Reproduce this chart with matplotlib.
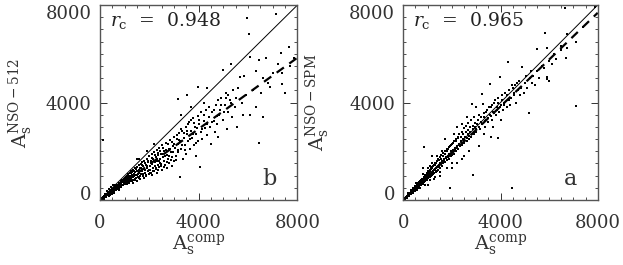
import numpy as np
import matplotlib.pyplot as plt
from matplotlib.ticker import MultipleLocator

plt.rcParams['font.family'] = ['DejaVu Serif']
plt.rcParams['mathtext.fontset'] = 'dejavuserif'

# panel b : A_s^comp vs A_s^NSO-512 (approximate)
b_points = [
    (30,20),(50,45),(60,30),(80,70),(90,60),(100,90),(110,70),(120,110),(130,100),(140,90),
    (150,140),(160,120),(170,150),(180,130),(190,170),(200,150),(210,190),(220,160),(230,210),(240,180),
    (250,230),(260,200),(270,250),(280,210),(290,260),(300,240),(310,280),(320,230),(330,300),(340,260),
    (350,310),(360,280),(370,330),(380,290),(390,350),(400,300),(410,370),(420,320),(430,380),(440,330),
    (450,410),(460,350),(470,420),(480,360),(490,440),(500,380),(510,460),(520,400),(530,470),(540,410),
    (550,500),(560,430),(570,510),(580,450),(590,520),(600,460),(150,60),(250,120),(350,180),(420,220),
    (480,250),(560,300),(200,260),(300,380),(380,470),(450,520),(520,600),(590,620),
    (620,500),(640,420),(650,560),(670,480),(690,600),(700,520),(720,450),(730,620),(750,560),(760,680),
    (780,590),(790,500),(800,700),(820,640),(830,560),(850,760),(860,680),(870,600),(890,800),(900,720),
    (910,620),(930,840),(940,760),(960,680),(970,880),(980,780),(1000,700),(1010,920),(1020,820),(1040,740),
    (1050,960),(1060,860),(1080,780),(1090,640),(1100,1000),(1110,900),(1130,820),(1140,700),(1150,1060),
    (1170,940),(1180,860),(1200,760),(1210,1120),(1230,980),(1240,900),(1260,800),(1270,1180),(1290,1020),
    (1300,940),(1320,840),(1330,700),(1340,1240),(1360,1080),(1380,980),(1400,880),(1410,1300),(1430,1140),
    (1450,1020),(1460,920),(1480,780),(1500,1360),(1500,1200),(1520,1060),(1540,960),(1560,1420),(1580,1250),
    (1600,1120),(1620,1000),(1640,860),(1660,1480),(1680,1300),
    (1700,1180),(1720,1550),(1740,1050),(1760,1380),(1780,920),(1800,1620),(1820,1250),(1840,1120),
    (1860,1450),(1880,980),(1900,1700),(1920,1320),(1940,1180),(1960,1560),(1980,1050),(2000,1800),
    (2020,1400),(2040,1250),(2060,1620),(2080,1120),(2100,1880),(2120,1480),(2140,1320),(2160,1700),
    (2180,1200),(2200,1960),(2220,1560),(2240,1380),(2260,1780),(2280,1260),(2300,2050),(2320,1620),
    (2340,1450),(2360,1850),(2380,1340),(2400,2150),(2420,1700),(2440,1520),(2460,1900),(2480,1380),
    (2500,2250),(2540,1780),(2580,1600),(2600,2000),(2640,1450),(2680,2350),(2700,1850),(2740,1680),
    (2780,2100),(2800,1500),(2840,2450),(2880,1950),(2900,1750),(2940,2200),(2980,1580),(3000,2600),
    (2100,1020),(2300,1120),(2500,1250),(2700,1300),(2900,1380),(1600,1680),(1900,2000),(2200,2300),
    (1500,1700),
    (3050,2150),(3080,1800),(3100,2500),(3150,2300),(3180,1950),(3200,2750),(3240,960),(3250,2400),
    (3300,2100),(3320,2850),(3350,1700),(3400,2550),(3440,2250),(3480,3000),(3500,1900),(3540,2700),
    (3580,2400),(3600,3200),(3650,2100),(3700,2850),(3720,2550),(3760,3350),(3800,2250),(3840,3000),
    (3880,2700),(3900,1800),(3950,3450),(3980,2400),(4000,3100),(4050,1370),(4080,2800),(4100,3600),
    (4150,2500),(4200,3250),(4250,2950),(4300,3700),(4350,2650),(4400,3400),(4450,3000),(4500,2300),
    (3980,4620),(4350,4580),(3540,4310),(3170,4130),(3300,3500),(3700,3800),(4200,4000),
    (4550,3600),(4600,3250),(4650,2800),(4700,3900),(4750,3450),(4800,2600),(4850,3700),(4900,4200),
    (4970,5330),(5000,3300),(5050,3900),(5100,4400),(5150,2900),(5200,3600),(5250,4100),(5310,5580),
    (5350,3400),(5400,4500),(5450,3800),(5500,4200),(5550,3000),(5600,4600),(5680,5030),(5740,4000),
    (5800,3500),(5850,5090),(5900,4300),(5940,7480),(6040,6800),(6060,5860),(6080,3490),(5200,4300),
    (5300,4000),(5100,4200),(4800,4100),
    (6200,4500),(6300,3800),(6430,2350),(6440,5740),(6520,4380),(6620,3420),(6720,5840),(6800,4800),
    (6890,4650),(7000,5200),(7120,7620),(7320,6040),(7360,5200),(7360,4760),(7510,4400),(7670,6260),
    (7870,5810),(7700,5500),(6600,5000),(7200,5600),(6300,5300),(130,2460),
    # second pass over the dense part of the cloud
    (230,140),(270,190),(340,200),(360,330),(410,260),(440,390),(470,300),(520,350),(530,420),(580,380),
    (610,540),(630,470),(660,390),(680,540),(710,590),(740,500),(770,430),(810,590),(840,710),(870,520),
    (910,760),(950,610),(990,850),(1020,640),(1070,880),(1120,730),(1160,990),(1190,680),(1220,860),
    (1250,1090),(1280,760),(1310,1150),(1350,930),(1390,1210),(1420,820),(1460,1270),(1490,1030),
    (1530,1180),(1570,900),(1610,1330),(1650,1060),(1690,1420),(1730,990),(1770,1290),(1810,1510),
    (1850,1040),(1890,1380),(1930,1600),(1970,1230),(2010,1090),(2050,1520),(2090,1730),(2130,1190),
    (2170,1580),(2210,1830),(2250,1310),(2290,1690),(2330,1910),(2370,1230),(2410,1610),(2450,2010),
    (2490,1470),(2530,1900),(2570,2150),(2610,1350),(2650,1790),(2690,2050),(2730,1560),(2770,2300),
    (2810,1820),(2850,2100),(2890,1660),(2930,2380),(2970,1950),(3010,2300),(3060,1650),(3110,2650),
    (3160,2050),(3210,2450),(3270,2900),(3330,2250),(3390,2750),(3450,2050),(3510,2850),(3570,3100),
    (3630,2500),(3690,3300),(3750,2700),(3810,3150),(3870,2350),(3930,2950),(4020,3300),(4120,2900),
    (4220,3500),(4320,3100),(4420,3800),(4520,3200),(4620,3700),(4720,3100),(4820,3500),(4920,3900),
    (5020,3600),
]

# panel a : A_s^comp vs A_s^NSO-SPM
a_points = [
    (20,20),(40,50),(60,50),(70,80),(90,80),(100,110),(110,90),(130,140),(140,120),(150,160),
    (170,150),(180,200),(190,170),(210,220),(220,200),(230,250),(250,230),(260,280),(270,250),(290,300),
    (300,280),(310,330),(330,310),(340,360),(350,330),(370,390),(380,360),(390,420),(410,390),(420,450),
    (430,410),(450,470),(460,440),(470,500),(490,470),(500,530),(510,490),(530,560),(540,520),(550,590),
    (570,550),(580,610),(590,570),(600,640),(150,80),(250,170),(330,230),(400,300),(470,360),(550,420),
    (200,290),(300,400),(380,500),(460,580),(540,680),(600,480),
    (620,600),(640,680),(650,560),(670,700),(690,640),(700,760),(720,680),(730,600),(750,790),(760,720),
    (780,850),(790,740),(800,660),(820,880),(830,800),(850,720),(860,920),(880,850),(890,760),(910,960),
    (920,880),(940,800),(950,1020),(970,930),(980,840),(1000,1080),(1010,980),(1030,900),(1040,1150),
    (1060,1030),(1080,940),(1090,1200),(1110,1080),(1130,980),(1140,1260),(1160,1120),(1180,1020),
    (1190,1320),(1210,1180),(1230,1060),(1240,1380),(1260,1230),(1280,1100),(1300,1450),(1310,1280),
    (1330,1150),(1350,1500),(1370,1340),(1390,1200),(1400,1580),(1420,1400),(1440,1250),(1450,1650),
    (1470,1450),(1490,1300),(1500,1150),(840,2190),(900,600),(1100,800),(1300,950),(1200,1500),
    (1000,1300),(800,1050),(1400,1800),(1100,1400),(700,500),(1250,850),
    (1520,1500),(1550,1700),(1580,1400),(1600,1580),(1630,1800),(1650,1500),(1680,1680),(1700,1900),
    (1720,1560),(1750,1750),(1780,2000),(1800,1650),(1820,1820),(1850,2100),(1870,1700),(1900,1900),
    (1930,2200),(1930,480),(1950,1800),(1980,2000),(2000,2300),(2020,1850),(2050,2050),(2080,2400),
    (2100,1900),(2130,2150),(2160,2500),(2180,2000),(2200,2200),(2230,2600),(2260,2100),(2280,2300),
    (2300,2700),(2330,2200),(2360,2400),(2400,2800),(2420,2250),(2450,2500),(2480,2950),(2500,2350),
    (2550,2600),(2580,3050),(2600,2400),(2650,2700),(2680,3150),(2700,2500),(2750,2800),(2780,3300),
    (2800,2600),(2850,2900),(2870,1030),(2900,3400),(2920,2700),(2950,3000),(3000,2800),(2200,1500),
    (2500,1800),(2700,2000),(1800,1300),(2000,1500),(1600,2000),(2400,3100),(2100,2700),
    (3050,3100),(3100,3500),(3150,2900),(3200,3200),(3240,4340),(3280,3940),(3300,3400),(3350,3000),
    (3400,3300),(3450,3700),(3500,3200),(3550,3500),(3550,4760),(3600,3800),(3650,3300),(3700,3600),
    (3750,4000),(3800,3500),(3850,3800),(3900,2530),(3900,4200),(3950,3600),(3990,5060),(4000,3900),
    (4050,4300),(4100,3700),(4150,4000),(4200,4400),(4250,3800),(4300,4100),(4320,5650),(4350,4500),
    (4400,3900),(4450,4200),(4490,480),(4500,4600),(2830,3940),(3300,2700),(3700,3000),(4000,3300),
    (4550,4300),(4600,4700),(4650,4000),(4700,4500),(4750,4900),(4800,4300),(4850,4600),(4900,5450),
    (4950,4400),(5000,4800),(5050,5100),(5100,4600),(5170,3560),(5200,5000),(5250,5300),(5300,4800),
    (5350,5100),(5400,4700),(5500,6180),(5500,5300),(5600,5000),(5700,5500),(5820,6840),(5910,6250),
    (5930,5060),(5930,4960),(6000,5700),(6100,5600),(6200,6000),(6300,5800),(6480,6150),(6500,6300),
    (6640,7890),(6710,5840),(6720,6250),(6740,6810),(7090,3860),(7120,6500),(7400,7100),(7900,7900),
    (6000,4900),(5800,5400),
    # second pass over the dense part of the cloud
    (230,270),(270,230),(340,390),(360,310),(410,430),(440,480),(470,420),(520,580),(560,500),(610,690),
    (630,580),(660,720),(690,600),(710,800),(740,690),(770,880),(800,740),(840,950),(870,800),(900,1010),
    (930,860),(960,1090),(990,940),(1020,1170),(1050,990),(1080,1230),(1110,1040),(1140,1310),(1170,1100),
    (1200,1360),(1230,1180),(1260,1440),(1290,1240),(1320,1520),(1350,1300),(1380,1600),(1410,1350),
    (1440,1700),(1470,1400),(1510,1760),(1540,1470),(1570,1850),(1610,1560),(1650,1930),(1690,1620),
    (1730,2020),(1770,1710),(1810,2090),(1850,1780),(1890,2180),(1930,1870),(1970,2250),(2010,1960),
    (2060,2350),(2110,2050),(2160,2420),(2210,2150),(2260,2530),(2310,2240),(2360,2600),(2410,2350),
    (2460,2700),(2510,2450),(2560,2800),(2610,2550),(2660,2880),(2710,2620),(2760,3000),(2810,2700),
    (2860,3050),(2910,2800),(2960,3150),(3010,2900),(3060,3300),(3120,3000),(3180,3400),(3240,3100),
    (3300,3550),(3360,3250),(3420,3600),(3480,3350),(3540,3800),(3600,3450),(3660,3900),(3720,3550),
    (3780,4100),(3840,3700),(3900,4000),(3960,3800),(4060,4100),(4160,3900),(4260,4300),(4360,4100),
    (4460,4700),(4560,4400),(4660,4800),(1000,600),(1500,1000),(2000,1300),(2400,1700),(3100,2200),
    (3600,2600),(800,1300),(1200,1800),(1700,2500),(2200,3000),(2600,3400),(3000,3800),
]

# fitted slopes of the dashed lines and correlation coefficients
b_slope = 0.73
a_slope = 0.96
b_rc = "0.948"
a_rc = "0.965"

fig = plt.figure(figsize=(6.23, 2.65), dpi=100)
ax_b = fig.add_axes([0.1605, 0.2453, 0.317, 0.7358])
ax_a = fig.add_axes([0.6474, 0.2453, 0.312, 0.7358])

panels = [
    (ax_b, b_points, b_slope, b_rc, 'b', r'$\mathrm{A_s^{NSO-512}}$', -0.40),
    (ax_a, a_points, a_slope, a_rc, 'a', r'$\mathrm{A_s^{NSO-SPM}}$', -0.44),
]

line_x = np.array([0, 8000])
for ax, pts, slope, rc, tag, ylab, ylab_x in panels:
    pts = np.array(pts)
    ax.plot(pts[:, 0], pts[:, 1], 's', ms=1.7, mew=0, color='black')
    ax.plot(line_x, line_x, color='black', lw=0.7)
    ax.plot(line_x, slope * line_x, color='black', lw=1.6, dashes=(4, 3))
    ax.set_xlim(0, 8000)
    ax.set_ylim(0, 8000)
    ax.set_xticks([0, 4000, 8000])
    ax.set_yticks([0, 4000, 8000])
    ax.xaxis.set_minor_locator(MultipleLocator(500))
    ax.yaxis.set_minor_locator(MultipleLocator(500))
    ax.tick_params(which='both', direction='in', top=True, right=True,
                   labelsize=13, color='#333333', labelcolor='#333333')
    ax.tick_params(axis='x', which='major', pad=10)
    ax.tick_params(axis='y', which='major', pad=6)
    ax.tick_params(which='major', length=5, width=0.7)
    ax.tick_params(which='minor', length=2.5, width=0.6)
    # IDL keeps the end labels inside the axis range
    ylabels = ax.get_yticklabels()
    ylabels[0].set_va('baseline')
    ylabels[-1].set_va('top')
    for s in ax.spines.values():
        s.set_color('#555555')
        s.set_linewidth(1.0)
    ax.text(0.05, 0.92, r'$r_\mathrm{c}$  =  ' + rc, transform=ax.transAxes,
            fontsize=13.5, va='center', ha='left', color='#222222')
    ax.text(0.86, 0.11, tag, transform=ax.transAxes, fontsize=16,
            va='center', ha='center', color='#333333')
    ax.set_xlabel(r'$\mathrm{A_s^{comp}}$', fontsize=14, color='#333333', va='center')
    ax.xaxis.set_label_coords(0.5, -0.235)
    ax.set_ylabel(ylab, fontsize=14, color='#333333', va='center')
    ax.yaxis.set_label_coords(ylab_x, 0.5)

fig.savefig('out.png', dpi=100)
